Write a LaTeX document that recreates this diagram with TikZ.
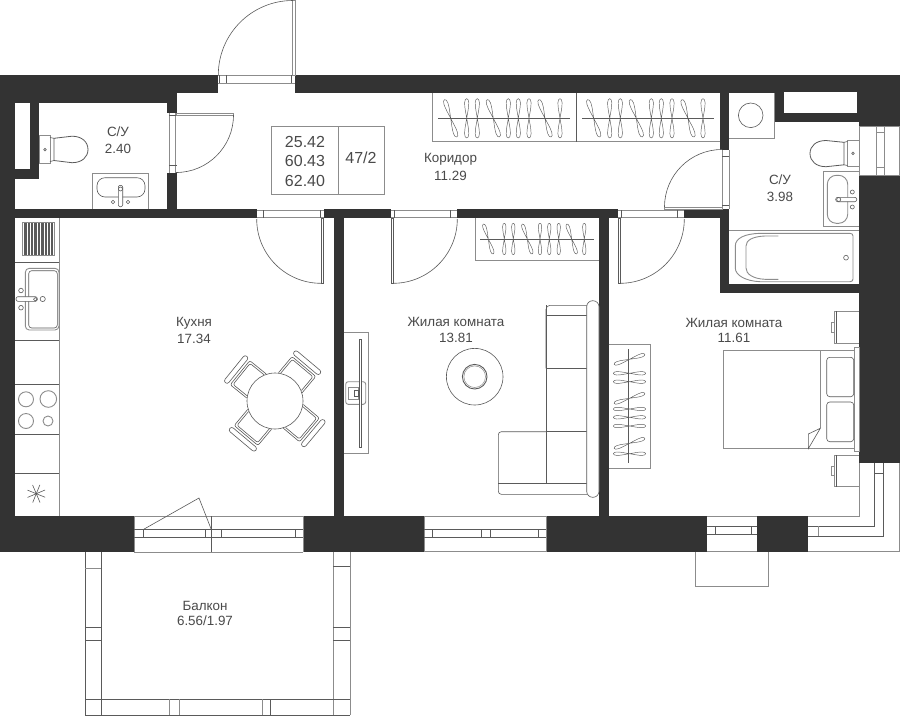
\documentclass[tikz,border=0pt]{standalone}
\usepackage{fontspec}
\setmainfont{Liberation Sans}
\definecolor{wallc}{HTML}{333333}
\definecolor{graylc}{HTML}{8C8C8C}
\definecolor{darklc}{HTML}{5A5A5A}
\definecolor{textc}{HTML}{4A4A4A}
\newcommand\hanger[4]{\begin{scope}[shift={(#1,#2)},rotate=#3,scale=#4]
\draw[hangerl] (0,0) .. controls (-0.7,-5) and (-2.1,-10) .. (-2.1,-15.5) .. controls (-2.1,-21) and (2.1,-21) .. (2.1,-15.5) .. controls (2.1,-10) and (0.7,-5) .. (0,0) .. controls (-0.7,5) and (-2.1,10) .. (-2.1,15.5) .. controls (-2.1,21) and (2.1,21) .. (2.1,15.5) .. controls (2.1,10) and (0.7,5) .. (0,0) -- cycle;
\end{scope}}
\newcommand\chairat[1]{\begin{scope}[shift={(275,401)},rotate=#1]
\draw[darkl,rounded corners=2pt] (24,-15.5) -- (45,-15.5) -- (45,15.5) -- (24,15.5);
\draw[darkl,rounded corners=2pt] (25,-13.5) -- (43,-13.5) -- (43,13.5) -- (25,13.5);
\draw[darkl,fill=white,rounded corners=2.5pt] (47.5,-17) rectangle (52.5,17);
\end{scope}}
\tikzset{
 wallfill/.style={fill=wallc,draw=none},
 voidfill/.style={fill=white,draw=none},
 grayl/.style={draw=graylc,line width=0.9pt},
 darkl/.style={draw=darklc,line width=0.6pt},
 hangerl/.style={draw=darklc,line width=0.45pt},
 labeltext/.style={text=textc,font=\fontsize{13.4}{15}\selectfont,inner sep=0pt,anchor=center},
 infotext/.style={text=textc,font=\fontsize{16}{18}\selectfont,inner sep=0pt,anchor=center}
}
\begin{document}
\begin{tikzpicture}[x=1pt,y=-1pt]
\useasboundingbox (0,0) rectangle (900,716);
\fill[white] (0,0) rectangle (900,716);
% ---- walls
\fill[wallfill] (0,75) rectangle (218,93);
\fill[wallfill] (295,75) rectangle (900,93);
\fill[wallfill] (0,75) rectangle (15,552);
\fill[wallfill] (0,93) rectangle (176.5,103);
\fill[wallfill] (167,93) rectangle (176.5,113);
\fill[wallfill] (167,172.6) rectangle (176.5,218);
\fill[wallfill] (15,209) rectangle (257,218);
\fill[wallfill] (30,103) rectangle (39,179);
\fill[wallfill] (15,168.5) rectangle (39,179);
\fill[wallfill] (323.5,209) rectangle (391,218);
\fill[wallfill] (457.3,209) rectangle (618,218);
\fill[wallfill] (684,209) rectangle (729,218);
\fill[wallfill] (334.3,218) rectangle (343.7,516);
\fill[wallfill] (599,218) rectangle (608.5,516);
\fill[wallfill] (720,93) rectangle (729,150);
\fill[wallfill] (720,209) rectangle (729,293);
\fill[wallfill] (720,284) rectangle (859,293);
\fill[wallfill] (775,93) rectangle (900,122);
\fill[wallfill] (859,122) rectangle (900,126);
\fill[wallfill] (859,176) rectangle (900,463.3);
\fill[wallfill] (0,516) rectangle (134,552);
\fill[wallfill] (303,516) rectangle (424.3,552);
\fill[wallfill] (546,516) rectangle (707.3,552);
\fill[wallfill] (757.3,516) rectangle (808.3,552);
\fill[voidfill] (14.5,103.5) rectangle (30,168.5);
\fill[voidfill] (784,92.3) rectangle (856.7,113.3);
% ---- entrance door
\draw[grayl] (218,75) -- (295,75) (218,83.3) -- (295,83.3);
\draw[darkl] (219,75) -- (219,83.3) (226.7,75) -- (226.7,83.3) (291,75) -- (291,83.3);
\draw[grayl] (292.6,0) rectangle (295,75);
\draw[darkl] (218.3,75) arc[start angle=180,end angle=270,radius=74.5];
% ---- small bathroom door
\draw[grayl] (169.3,113) -- (169.3,172.6) (175.5,113) -- (175.5,172.6);
\draw[darkl] (169.3,115.7) -- (176.5,115.7) (169.3,165.7) -- (176.5,165.7);
\draw[grayl] (176.5,113.4) rectangle (233.5,115);
\draw[darkl] (233.5,115) arc[start angle=0,end angle=90,radius=57.5];
% ---- kitchen door
\draw[grayl] (257,210) -- (323.5,210) (257,217.7) -- (323.5,217.7);
\draw[darkl] (263.3,210) -- (263.3,218) (320,210) -- (320,218);
\draw[darkl] (321,218) rectangle (323.3,283.3);
\draw[darkl] (321,283.3) arc[start angle=90,end angle=180,radius=64.3];
% ---- living door
\draw[grayl] (391,210) -- (457.3,210) (391,217.7) -- (457.3,217.7);
\draw[darkl] (394,210) -- (394,218) (450,210) -- (450,218);
\draw[darkl] (391,218) rectangle (393,283.3);
\draw[darkl] (393,283.3) arc[start angle=90,end angle=0,radius=64.3];
% ---- bedroom door
\draw[grayl] (618,210) -- (684,210) (618,217.7) -- (684,217.7);
\draw[darkl] (621,210) -- (621,218) (677.3,210) -- (677.3,218);
\draw[darkl] (618,218) rectangle (620,283.3);
\draw[darkl] (620,283.3) arc[start angle=90,end angle=0,radius=64.3];
% ---- bathroom door
\draw[grayl] (722.3,150) -- (722.3,209) (729,150) -- (729,209);
\draw[darkl] (722.3,156) -- (729,156) (722.3,205.7) -- (729,205.7);
\draw[grayl] (664.5,207) rectangle (722.3,209);
\draw[darkl] (664.5,207) arc[start angle=180,end angle=270,radius=57.5];
% ---- info box
\draw[grayl] (271,126.7) rectangle (384,194.3);
\draw[grayl] (338.5,126.7) -- (338.5,194.3);
\node[infotext] (infoa) at (305,142) {25.42};
\node[infotext] (infob) at (305,161) {60.43};
\node[infotext] (infoc) at (305,181) {62.40};
\node[infotext] (infod) at (361,158) {47/2};
% ---- wardrobes
\draw[grayl] (432.7,93) -- (432.7,141.7) -- (720,141.7);
\draw[darkl] (576.7,93) -- (576.7,141.7);
\draw[darkl] (438.3,118.3) -- (570,118.3) (582,118.3) -- (714,118.3);
\foreach \hx/\hr in {450.7/18,466.7/0,477.3/0,493.3/18,508.3/0,518.3/0,529/0,545/18,560/0}{
  \hanger{\hx}{118.3}{\hr}{1}
  \hanger{\hx+143}{118.3}{\hr}{1}
}
\draw[grayl] (475,218) -- (475,260) -- (599,260);
\draw[darkl] (480,239) -- (594,239);
\foreach \hx/\hr in {488.3/18,504.3/0,513.3/0,527.3/18,540/0,549.3/0,558.7/0,571.7/18,584.3/0}{
  \hanger{\hx}{239}{\hr}{0.8}
}
\draw[grayl] (608.5,344) -- (650,344) -- (650,468.3) -- (608.5,468.3);
\draw[darkl] (628.7,349.3) -- (628.7,462.7);
\foreach \hy/\hr in {359.3/-72,373.3/-90,381.7/-90,398.3/-72,409/-90,417.3/-90,426/-90,443.3/-72,453.7/-90}{
  \hanger{629.5}{\hy}{\hr}{0.82}
}
% ---- left toilet and sink
\draw[grayl] (39.3,135) rectangle (50,163.3);
\draw[darkl] (45,149.7) circle[radius=1.3];
\draw[darkl] (50,137.5) -- (54,138.3) (50,161.5) -- (54,160.5);
\draw[draw=darklc,line width=0.8pt] (54,138.3) -- (72,136.2) .. controls (82,136.2) and (88,142) .. (88,149.5) .. controls (88,157) and (82,162.7) .. (72,162.7) -- (54,160.5) -- cycle;
\draw[grayl] (92.3,209) -- (92.3,173.3) -- (148,173.3) -- (148,209);
\draw[darkl,rounded corners=8pt] (97,177.7) rectangle (145,197);
\draw[darkl,fill=white,rounded corners=2pt] (118.3,185.3) rectangle (122.7,206.7);
\draw[darkl] (120.5,189) circle[radius=2];
\draw[darkl] (113,202) circle[radius=1.7] (128,202) circle[radius=1.7];
% ---- kitchen units
\draw[grayl] (59.3,218) -- (59.3,516);
\draw[darkl] (15,262) -- (59.3,262) (15,340) -- (59.3,340) (15,384.7) -- (59.3,384.7) (15,434.3) -- (59.3,434.3) (15,473.3) -- (59.3,473.3);
\draw[grayl] (22.7,222.7) rectangle (54,255.3);
\foreach \i in {0,...,20}{\draw[draw=darklc,line width=0.85pt] ({24+\i*1.42},223) -- ({24+\i*1.42},255);}
\draw[grayl,rounded corners=4pt] (25.3,268.3) rectangle (59,330);
\draw[darkl,rounded corners=3pt] (28.7,270.7) rectangle (57.3,328);
\draw[darkl,fill=white,rounded corners=2pt] (16,296.7) rectangle (37.3,301.3);
\draw[darkl] (21,290.5) circle[radius=2.3] (21,307.7) circle[radius=2.3] (42.7,299) circle[radius=2.6] (35.3,299.3) circle[radius=1.8];
\draw[grayl] (26,399.3) circle[radius=7.5] (48.3,399) circle[radius=8.3] (26,421) circle[radius=7.5] (48,421) circle[radius=5];
\foreach \a in {0,45,...,315}{\draw[darkl] (36.3,493.7) -- ++(\a+22:9.5);}
\fill[darklc] (36.3,493.7) circle[radius=1.2];
% ---- dining table
\chairat{50}\chairat{141}\chairat{230}\chairat{320}
\draw[darkl,fill=white] (275,401) circle[radius=28];
% ---- TV
\draw[grayl] (343.7,332.3) -- (368.3,332.3) -- (368.3,453.3) -- (343.7,453.3);
\draw[grayl,rounded corners=2.5pt] (345.7,381.7) rectangle (365.7,404.3);
\draw[grayl] (348,387.3) rectangle (358,399);
\draw[darkl] (354.3,390) rectangle (358.3,396);
\draw[darkl,fill=white] (358.8,339) rectangle (361,447.3);
% ---- rug
\draw[darkl] (474.7,376.7) circle[radius=28.3];
\draw[draw=darklc,line width=0.9pt] (474.7,376.7) circle[radius=12.3];
\draw[draw=graylc,line width=0.5pt] (474.7,376.7) circle[radius=10.8];
% ---- sofa
\draw[darkl,rounded corners=4pt] (546,368.3) -- (546,305.3) -- (587,305.3);
\draw[darkl] (546,315) -- (587,315);
\draw[darkl] (546,368.3) -- (587,368.3) (546,431.7) -- (587,431.7);
\draw[darkl] (546,305.3) -- (546,483.3);
\draw[darkl,rounded corners=3pt] (546,431.7) -- (498.3,431.7) -- (498.3,494.3) -- (587,494.3);
\draw[darkl] (498.3,483.3) -- (587,483.3);
\draw[darkl,fill=white,rounded corners=6pt] (586.7,300.7) rectangle (599,497.3);
% ---- bed and nightstands
\draw[grayl] (723,350) rectangle (854.3,448.7);
\draw[grayl] (820.3,350) -- (820.3,428.3);
\draw[grayl] (854.3,347.3) rectangle (859,451.3);
\draw[darkl,rounded corners=3pt] (826.7,357.3) rectangle (853.7,396.7);
\draw[darkl,rounded corners=3pt] (826.7,402) rectangle (853.7,441.7);
\draw[darkl,fill=white] (820.3,428.3) -- (808.3,434) -- (808.3,448.7) -- cycle;
\draw[grayl] (859,311.3) -- (834.3,311.3) -- (834.3,343.3) -- (859,343.3);
\draw[darkl] (836.6,311.3) -- (836.6,343.3);
\draw[grayl] (831,322.7) rectangle (834.3,332);
\draw[grayl] (859,455) -- (834.3,455) -- (834.3,486.7) -- (859,486.7);
\draw[darkl] (836.6,455) -- (836.6,486.7);
\draw[grayl] (831,466.7) rectangle (834.3,475.3);
% ---- bathroom fixtures
\draw[grayl] (729,138) -- (774.5,138) -- (774.5,93);
\draw[darkl] (750.7,115.3) circle[radius=12.3];
\draw[grayl] (847.5,140) rectangle (859,166.8);
\draw[darkl] (853,153.3) circle[radius=1.3];
\draw[darkl] (847.5,141.5) -- (844,142.3) (847.5,165.5) -- (844,164.8);
\draw[draw=darklc,line width=0.8pt] (844,142.3) -- (826,140.5) .. controls (816,140.5) and (810,146) .. (810,153.5) .. controls (810,161) and (816,166.7) .. (826,166.7) -- (844,164.8) -- cycle;
\draw[grayl] (859,171.7) -- (823.3,171.7) -- (823.3,226.7) -- (859,226.7);
\draw[grayl,rounded corners=9pt] (827.3,175.3) rectangle (847.7,223.3);
\draw[darkl,fill=white,rounded corners=2pt] (835.7,197.3) rectangle (856.7,201.7);
\draw[darkl] (838.7,199.5) circle[radius=2] (852.3,192) circle[radius=2] (852.3,207) circle[radius=2];
\draw[grayl] (729,230) -- (859,230);
\draw[grayl] (850,233.3) .. controls (852,233.3) and (853,234.5) .. (853,236) -- (853,279) .. controls (853,280.5) and (852,281.7) .. (850,281.7) -- (760,281.7) .. controls (745,281) and (735.3,275) .. (735.3,268) -- (735.3,246) .. controls (735.3,238) and (745,233.8) .. (760,233.3) -- cycle;
\draw[grayl] (778.3,236) -- (765,236) .. controls (753,236.5) and (746,240) .. (746,246) -- (746,268) .. controls (746,274) and (753,278.8) .. (765,279.3) -- (778.3,279.3);
\draw[darkl] (846,257.7) circle[radius=2.4];
% ---- right window
\draw[grayl] (859.3,126) -- (899.5,126) -- (899.5,175.8) -- (859.3,175.8) -- cycle;
\draw[grayl] (876.7,126) -- (876.7,175.8) (884.3,126) -- (884.3,175.8);
\draw[grayl] (876.7,132.5) -- (884.3,132.5) (876.7,167.7) -- (884.3,167.7);
% ---- balcony door window
\draw[grayl] (134,516) -- (303,516) (134,552) -- (303,552);
\draw[grayl] (134,516) -- (134,552) (303,516) -- (303,552);
\draw[darkl] (134,529.5) -- (303,529.5) (134,537.3) -- (303,537.3);
\draw[darkl] (143.3,529.5) -- (143.3,537.3) (205,529.5) -- (205,537.3) (221.7,529.5) -- (221.7,537.3) (295.3,529.5) -- (295.3,537.3);
\draw[draw=darklc,line width=0.7pt] (211.3,516) -- (211.3,552);
\draw[darkl] (143.3,529.5) -- (199,498) -- (211.3,529.5);
% ---- living window
\draw[grayl] (424.3,516) -- (546,516) (424.3,551.7) -- (546,551.7);
\draw[grayl] (424.3,516) -- (424.3,552) (546,516) -- (546,552);
\draw[darkl] (424.3,529.3) -- (546,529.3) (424.3,537.3) -- (546,537.3);
\draw[darkl] (432.3,529.3) -- (432.3,537.3) (481.7,529.3) -- (481.7,537.3) (490.7,529.3) -- (490.7,537.3) (538.3,529.3) -- (538.3,537.3);
% ---- bedroom window and bay
\draw[grayl] (707.3,516) -- (757.3,516) (707.3,551.8) -- (757.3,551.8);
\draw[darkl] (707.3,526) -- (757.3,526) (707.3,534) -- (757.3,534);
\draw[darkl] (715.3,526) -- (715.3,534) (751,526) -- (751,534);
\draw[grayl] (768,552) -- (768,586) -- (695,586) -- (695,552);
% ---- corner window
\draw[grayl] (859,463.3) -- (859,516) -- (808.3,516);
\draw[darkl] (874,463.3) -- (874,526.3) -- (808.3,526.3);
\draw[darkl] (883,463.3) -- (883,536) -- (808.3,536);
\draw[darkl] (874,473) -- (883,473);
\draw[grayl] (818,526.3) -- (818,536);
\draw[grayl] (899.5,463.3) -- (899.5,551.8) -- (808.3,551.8);
% ---- balcony
\draw[darkl] (85.3,552) -- (85.3,715.3) -- (350,715.3);
\draw[darkl] (101.3,552) -- (101.3,715.3);
\draw[grayl] (333.3,552) -- (333.3,715.3);
\draw[grayl] (350,552) -- (350,715.3);
\draw[darkl] (85.3,699.3) -- (350,699.3);
\draw[grayl] (85.3,568) -- (101.3,568);
\draw[darkl] (85.3,627.3) -- (101.3,627.3) (85.3,640.7) -- (101.3,640.7);
\draw[darkl] (333.3,566.3) -- (350,566.3) (333.3,627.3) -- (350,627.3) (333.3,640.7) -- (350,640.7);
\draw[grayl] (169.3,699.3) -- (169.3,715.3) (179.3,699.3) -- (179.3,715.3) (262,699.3) -- (262,715.3);
\draw[darkl] (270.3,699.3) -- (270.3,715.3);
% ---- labels
\node[labeltext] (wca) at (118,132) {С/У};
\node[labeltext] (wcaa) at (118,149) {2.40};
\node[labeltext] (cor) at (450.5,159.5) {Коридор};
\node[labeltext] (cora) at (450.5,176) {11.29};
\node[labeltext] (kit) at (194,323) {Кухня};
\node[labeltext] (kita) at (194,339) {17.34};
\node[labeltext] (liva) at (456,322) {Жилая комната};
\node[labeltext] (livaa) at (456,338) {13.81};
\node[labeltext] (livb) at (734,323) {Жилая комната};
\node[labeltext] (livba) at (734,338) {11.61};
\node[labeltext] (wcb) at (780,180) {С/У};
\node[labeltext] (wcba) at (780,197) {3.98};
\node[labeltext] (bal) at (205,605.5) {Балкон};
\node[labeltext] (bala) at (205,621) {6.56/1.97};
\end{tikzpicture}
\end{document}
